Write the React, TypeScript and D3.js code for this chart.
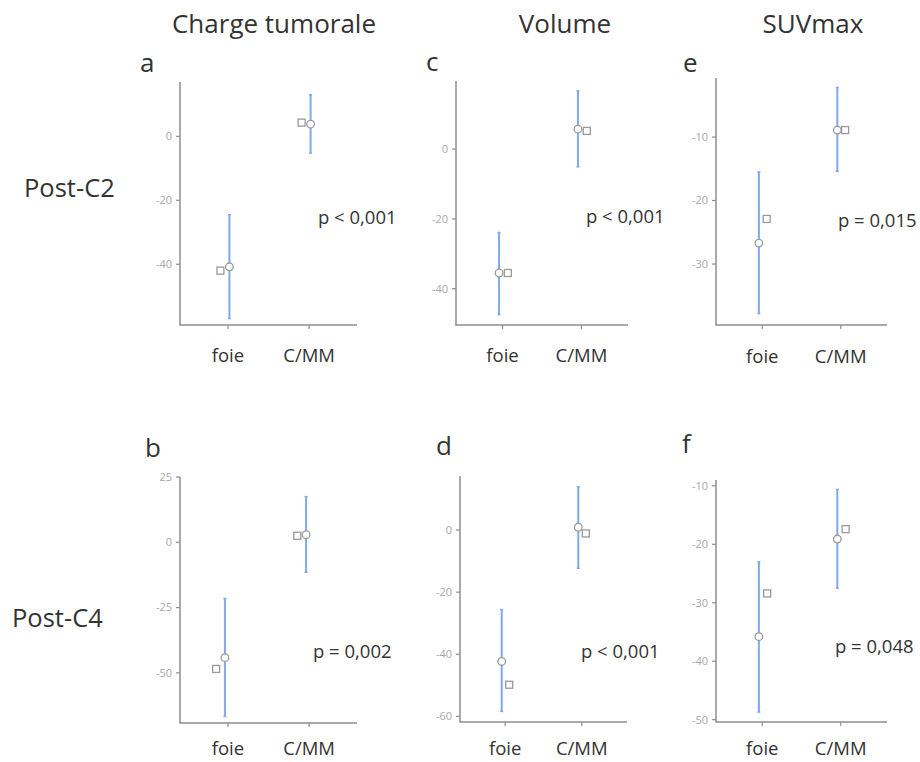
import React from 'react';
import * as d3 from 'd3';

// ---------- data ----------
const categories = ['foie', 'C/MM'];
const panelIds = ['a', 'c', 'e', 'b', 'd', 'f'];
const columnTitles = ['Charge tumorale', 'Volume', 'SUVmax'];
const rowLabels = ['Post-C2', 'Post-C4'];
const pValueLabels = ['p < 0,001', 'p < 0,001', 'p = 0,015', 'p = 0,002', 'p < 0,001', 'p = 0,048'];

// per panel: [foie, C/MM]
const meanValues = [[-40.8, 3.8], [-35.5, 5.7], [-26.7, -8.9], [-44.2, 2.9], [-42.3, 0.9], [-35.8, -19.1]];
const lowerValues = [[-57, -5.2], [-47.4, -5.1], [-37.8, -15.4], [-66.7, -11.5], [-58.4, -12.3], [-48.7, -27.5]];
const upperValues = [[-24.5, 13], [-23.9, 16.7], [-15.5, -2.2], [-21.5, 17.5], [-25.7, 13.9], [-23, -10.6]];
const squareValues = [[-42, 4.3], [-35.5, 5.2], [-22.9, -8.9], [-48.5, 2.5], [-49.8, -1.1], [-28.4, -17.4]];

const yTickValues = [[0, -20, -40], [0, -20, -40], [-10, -20, -30], [25, 0, -25, -50], [0, -20, -40, -60], [-10, -20, -30, -40, -50]];
const yDomains = [[-59, 17], [-50.4, 19.5], [-39.6, -0.7], [-69.2, 25], [-61.8, 17.4], [-50.4, -9]];

// ---------- layout (positions / styles) ----------
const layout = [
  { x0: 180, x1: 357, y0: 82, y1: 325, barDx: 1.5, sqDx: -9, letterX: 140, letterY: 72, pX: 318, pY: 224, labelY: 362 },
  { x0: 456, x1: 628, y0: 81, y1: 325, barDx: -3.5, sqDx: 8.8, letterX: 426, letterY: 71, pX: 586, pY: 223, labelY: 362 },
  { x0: 716, x1: 887, y0: 78, y1: 325, barDx: -3.4, sqDx: 7.8, letterX: 683, letterY: 72, pX: 838, pY: 227, labelY: 363 },
  { x0: 180, x1: 357, y0: 477, y1: 723, barDx: -3, sqDx: -8.8, letterX: 145, letterY: 457, pX: 313, pY: 658, labelY: 755 },
  { x0: 460, x1: 627, y0: 476, y1: 722, barDx: -3.5, sqDx: 7.5, letterX: 436, letterY: 455, pX: 581, pY: 658, labelY: 755 },
  { x0: 716, x1: 887, y0: 480, y1: 722, barDx: -3.4, sqDx: 8.3, letterX: 682, letterY: 453, pX: 835, pY: 653, labelY: 755 },
];
const titlePos = [{ x: 274, y: 33 }, { x: 565, y: 33 }, { x: 813, y: 33 }];
const rowPos = [{ x: 24, y: 197 }, { x: 12, y: 627 }];

const FONT = '"Open Sans", "Noto Sans", sans-serif';
const AXIS = '#8e8e8e';
const BAR = '#7ea8ef';
const MARK = '#9a9a9a';
const TEXT = '#333333';

function Panel({ i }: { i: number }) {
  const L = layout[i];
  const y = d3.scaleLinear().domain(yDomains[i]).range([L.y1, L.y0]);
  const x = d3.scalePoint<string>().domain(categories).range([L.x0, L.x1]).padding(0.59);
  return (
    <g>
      <text x={L.letterX} y={L.letterY} fontSize={26} fontFamily={FONT} fill={TEXT}>{panelIds[i]}</text>
      <line x1={L.x0} x2={L.x0} y1={L.y0} y2={L.y1} stroke={AXIS} strokeWidth={1.5} />
      <line x1={L.x0 - 0.75} x2={L.x1} y1={L.y1} y2={L.y1} stroke={AXIS} strokeWidth={1.5} />
      {yTickValues[i].map((t) => (
        <g key={t}>
          <line x1={L.x0 - 4} x2={L.x0} y1={y(t)} y2={y(t)} stroke={AXIS} strokeWidth={1.2} />
          <text x={L.x0 - 8} y={y(t)} dy="0.35em" textAnchor="end" fontSize={11} fontFamily={FONT} fill="#a8a8a8">{d3.format('d')(t).replace('−', '-')}</text>
        </g>
      ))}
      {categories.map((c, j) => {
        const cx = (x(c) as number);
        const bx = cx + L.barDx;
        return (
          <g key={c}>
            <line x1={cx} x2={cx} y1={L.y1} y2={L.y1 + 4} stroke={AXIS} strokeWidth={1.2} />
            <text x={cx} y={L.labelY} textAnchor="middle" fontSize={18.5} fontFamily={FONT} fill={TEXT}>{c}</text>
            <line x1={bx} x2={bx} y1={y(lowerValues[i][j])} y2={y(upperValues[i][j])} stroke={BAR} strokeWidth={2} />
            <line x1={bx - 1.5} x2={bx + 1.5} y1={y(lowerValues[i][j])} y2={y(lowerValues[i][j])} stroke={BAR} strokeWidth={1.5} />
            <line x1={bx - 1.5} x2={bx + 1.5} y1={y(upperValues[i][j])} y2={y(upperValues[i][j])} stroke={BAR} strokeWidth={1.5} />
            <rect x={bx + L.sqDx - 3.5} y={y(squareValues[i][j]) - 3.5} width={7} height={7} fill="#fff" stroke={MARK} strokeWidth={1.3} />
            <circle cx={bx} cy={y(meanValues[i][j])} r={3.8} fill="#fff" stroke={MARK} strokeWidth={1.3} />
          </g>
        );
      })}
      <text x={L.pX} y={L.pY} fontSize={18.5} fontFamily={FONT} fill={TEXT}>{pValueLabels[i]}</text>
    </g>
  );
}

export default function App() {
  return (
    <svg width={920} height={762} style={{ position: 'absolute', left: 0, top: 0, background: '#fff' }}>
      <rect width={920} height={762} fill="#fff" />
      {columnTitles.map((t, k) => (
        <text key={t} x={titlePos[k].x} y={titlePos[k].y} textAnchor="middle" fontSize={26} fontFamily={FONT} fill={TEXT}>{t}</text>
      ))}
      {rowLabels.map((t, k) => (
        <text key={t} x={rowPos[k].x} y={rowPos[k].y} fontSize={25.5} fontFamily={FONT} fill={TEXT}>{t}</text>
      ))}
      {panelIds.map((_, i) => <Panel key={i} i={i} />)}
    </svg>
  );
}
